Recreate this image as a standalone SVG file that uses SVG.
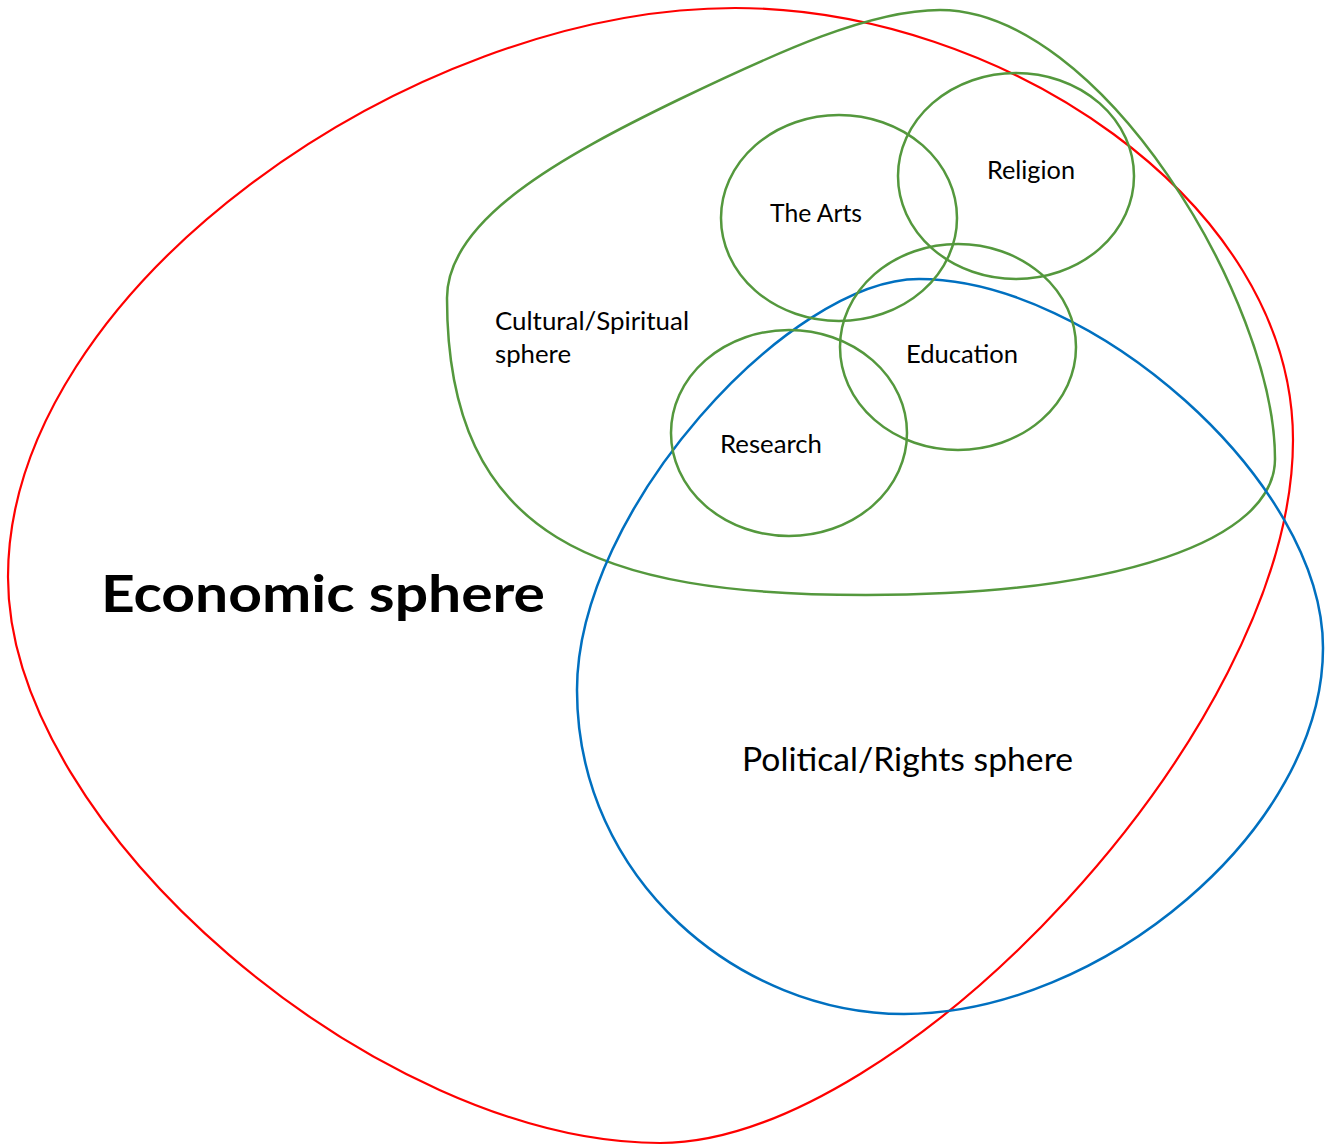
<svg xmlns="http://www.w3.org/2000/svg" width="1328" height="1145" viewBox="0 0 1328 1145">
  <style>
    .shape { fill: none; stroke-width: 2.5; }
    .red { stroke: #FF0000; stroke-width: 2.2; }
    .green { stroke: #54983D; }
    .blue { stroke: #0070C0; }
    .lbl { font-family: Lato, "Open Sans", "Liberation Sans", sans-serif; fill: #000000; }
    .small { font-size: 24.5px; }
  </style>
  <rect x="0" y="0" width="1328" height="1145" fill="#FFFFFF"/>

  <g id="economic-sphere">
    <path class="shape red" d="M735,8 C1000,8 1293,200 1293,440 C1293,730 900,1143 660,1143 C380,1143 8,830 8,577 C8,290 410,8 735,8 Z"/>
    <text class="lbl" x="101" y="612" font-size="51" font-weight="bold" textLength="444" lengthAdjust="spacingAndGlyphs">Economic sphere</text>
  </g>

  <g id="cultural-sphere">
    <path class="shape green" d="M940,10 C1100,10 1275,300 1275,459 C1275,540 1120,595 866,595 C600,595 447,540 447,298 C447,220 560,157 680,99 C779,51.5 870,10 940,10 Z"/>
    <text class="lbl small" x="495" y="330" textLength="194" lengthAdjust="spacingAndGlyphs">Cultural/Spiritual</text>
    <text class="lbl small" x="495" y="363" textLength="76" lengthAdjust="spacingAndGlyphs">sphere</text>
  </g>

  <g id="political-sphere">
    <path class="shape blue" d="M919,279 C1090,279 1323,480 1323,648 C1323,830 1100,1014 904,1014 C740,1014 577,880 577,690 C577,510 790,279 919,279 Z"/>
    <text class="lbl" x="742" y="771" font-size="33" textLength="331" lengthAdjust="spacingAndGlyphs">Political/Rights sphere</text>
  </g>

  <g id="the-arts">
    <ellipse class="shape green" cx="839" cy="218" rx="118" ry="103"/>
    <text class="lbl small" x="770" y="222" textLength="92" lengthAdjust="spacingAndGlyphs">The Arts</text>
  </g>

  <g id="religion">
    <ellipse class="shape green" cx="1016" cy="176" rx="118" ry="103"/>
    <text class="lbl small" x="987" y="179" textLength="88" lengthAdjust="spacingAndGlyphs">Religion</text>
  </g>

  <g id="education">
    <ellipse class="shape green" cx="958" cy="347" rx="118" ry="103"/>
    <text class="lbl small" x="906" y="363" textLength="112" lengthAdjust="spacingAndGlyphs">Education</text>
  </g>

  <g id="research">
    <ellipse class="shape green" cx="789" cy="433" rx="118" ry="103"/>
    <text class="lbl small" x="720" y="453" textLength="102" lengthAdjust="spacingAndGlyphs">Research</text>
  </g>

  <g id="connectors"/>
</svg>
